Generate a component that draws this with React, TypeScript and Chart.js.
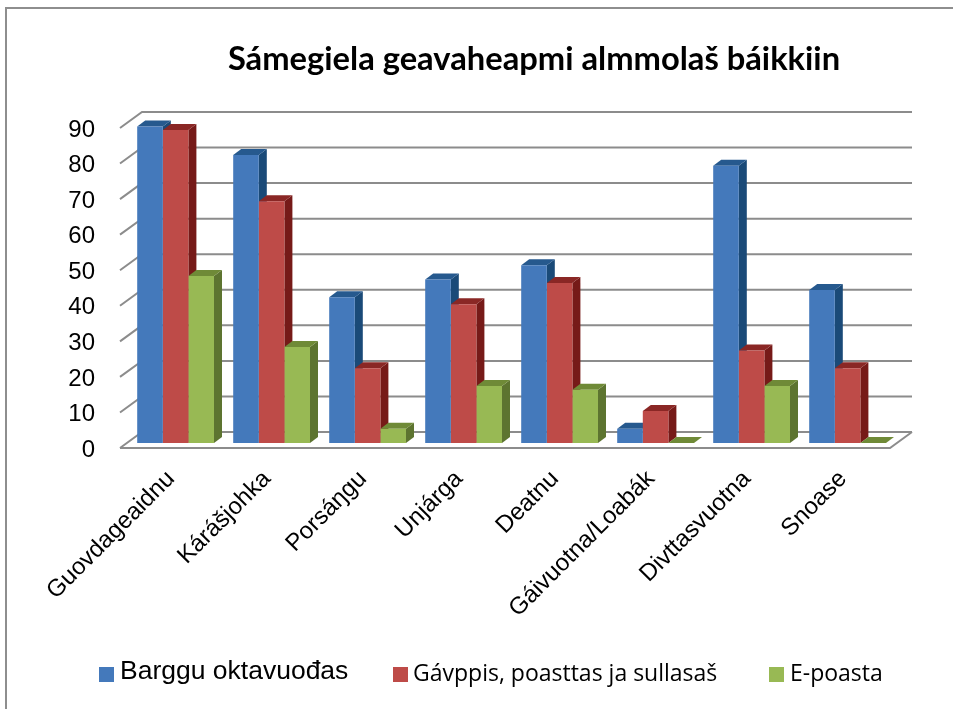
import React, { useEffect, useRef } from "react";
import { Chart, registerables } from "chart.js";

Chart.register(...registerables);

const categories = ["Guovdageaidnu", "Kárášjohka", "Porsáŋgu", "Unjárga", "Deatnu", "Gáivuotna/Loabák", "Divttasvuotna", "Snoase"];
const seriesBarggu = [89, 81, 41, 46, 50, 4, 78, 43];
const seriesGavppis = [88, 68, 21, 39, 45, 9, 26, 21];
const seriesEpoasta = [47, 27, 4, 16, 15, 0, 16, 0];
const seriesNames = ["Barggu oktavuođas", "Gávppis, poasttas ja sullasaš", "E-poasta"];
const titleText = "Sámegiela geavaheapmi almmolaš báikkiin";

const frontColors = ["#4479BB", "#BE4B48", "#98B954"];
const sideColors = ["#1A4A78", "#761A18", "#5D7430"];
const topColors = ["#26598E", "#8A2725", "#6F8A37"];
const GRID = "#8C8C8C";

const WIDTH = 953;
const HEIGHT = 709;
const AREA_LEFT = 122;
const AREA_TOP = 127;
const AREA_RIGHT = 890;
const AREA_BOTTOM = 447;
const TITLE_CENTER = 534;
const WALL = { dx: 22, dy: -16 };
const BAR_SHIFT = { dx: 5.6, dy: -4 };
const BAR_DEPTH = { dx: 8, dy: -6 };

const legendItems = [
  { swatchX: 99, textX: 120, textY: 672, font: '26.5px "Liberation Sans"' },
  { swatchX: 393, textX: 413, textY: 674, font: '23px "Open Sans"' },
  { swatchX: 769, textX: 790, textY: 674, font: '23px "Open Sans"' },
];

const sceneryPlugin = {
  id: "scenery",
  beforeDraw(chart: any) {
    const { ctx } = chart;
    ctx.save();
    ctx.fillStyle = "#FFFFFF";
    ctx.fillRect(0, 0, WIDTH, HEIGHT);
    ctx.strokeStyle = "#8E8E8E";
    ctx.lineWidth = 2;
    ctx.strokeRect(6, 8, 1000, 800);
    ctx.restore();
  },
  beforeDatasetsDraw(chart: any) {
    const { ctx, scales } = chart;
    const y = scales.y;
    const { left, right } = chart.chartArea;
    ctx.save();
    ctx.strokeStyle = GRID;
    ctx.lineWidth = 2;
    y.ticks.forEach((t: any) => {
      const py = y.getPixelForValue(t.value);
      ctx.beginPath();
      ctx.moveTo(left - 2, py + 1);
      ctx.lineTo(left + WALL.dx - 2, py + WALL.dy + 1);
      ctx.lineTo(right + WALL.dx, py + WALL.dy + 1);
      ctx.stroke();
    });
    const base = y.getPixelForValue(0);
    ctx.beginPath();
    ctx.moveTo(left - 2, base + 1);
    ctx.lineTo(right, base + 1);
    ctx.lineTo(right + WALL.dx, base + WALL.dy + 1);
    ctx.stroke();
    ctx.restore();

    ctx.save();
    ctx.translate(BAR_SHIFT.dx, BAR_SHIFT.dy);
    const { dx, dy } = BAR_DEPTH;
    seriesNames.forEach((_, index) => {
      chart.getDatasetMeta(index).data.forEach((bar: any) => {
        const p = bar.getProps(["x", "y", "base", "width"], true);
        const l = p.x - p.width / 2;
        const r = p.x + p.width / 2;
        ctx.fillStyle = sideColors[index];
        ctx.beginPath();
        ctx.moveTo(r, p.y);
        ctx.lineTo(r + dx, p.y + dy);
        ctx.lineTo(r + dx, p.base + dy);
        ctx.lineTo(r, p.base);
        ctx.closePath();
        ctx.fill();
        ctx.fillStyle = topColors[index];
        ctx.beginPath();
        ctx.moveTo(l, p.y);
        ctx.lineTo(l + dx, p.y + dy);
        ctx.lineTo(r + dx, p.y + dy);
        ctx.lineTo(r, p.y);
        ctx.closePath();
        ctx.fill();
      });
    });
  },
  afterDatasetsDraw(chart: any) {
    chart.ctx.restore();
  },
  afterDraw(chart: any) {
    const { ctx } = chart;
    ctx.save();
    ctx.textBaseline = "middle";
    ctx.textAlign = "left";
    seriesNames.forEach((name, i) => {
      const item = legendItems[i];
      ctx.fillStyle = frontColors[i];
      ctx.fillRect(item.swatchX, 667, 15, 15);
      ctx.fillStyle = "#000000";
      ctx.font = item.font;
      ctx.fillText(name, item.textX, item.textY);
    });
    ctx.restore();
  },
  afterLayout(chart: any) {
    const t = chart.titleBlock;
    const half = (t.right - t.left) / 2;
    t.left = TITLE_CENTER - half;
    t.right = TITLE_CENTER + half;
  },
};

export default function App() {
  const ref = useRef<HTMLCanvasElement>(null);
  useEffect(() => {
    const chart = new Chart(ref.current as HTMLCanvasElement, {
      type: "bar",
      data: {
        labels: categories,
        datasets: [seriesBarggu, seriesGavppis, seriesEpoasta].map((data, i) => ({
          label: seriesNames[i],
          data,
          backgroundColor: frontColors[i],
          borderWidth: 0,
          categoryPercentage: 0.8,
          barPercentage: 1,
          clip: false,
        })),
      },
      options: {
        responsive: false,
        animation: false,
        layout: { padding: { left: 0, top: 0, right: WIDTH - AREA_RIGHT, bottom: 0 } },
        plugins: {
          legend: { display: false },
          tooltip: { enabled: false },
          title: {
            display: true,
            text: titleText,
            color: "#000000",
            font: { family: "Lato", size: 32.7, weight: "bold", lineHeight: 1.2 },
            padding: { top: 40, bottom: AREA_TOP - 40 - 39.24 },
          },
        },
        scales: {
          x: {
            grid: { display: false },
            border: { display: false },
            ticks: {
              color: "#000000",
              font: { family: "Liberation Sans", size: 24 },
              minRotation: 45,
              maxRotation: 45,
              autoSkip: false,
              padding: 10,
              labelOffset: 1,
            },
            afterFit(scale: any) {
              scale.height = HEIGHT - AREA_BOTTOM;
              scale.paddingLeft = 0;
              scale.paddingRight = 0;
            },
          },
          y: {
            min: 0,
            max: 90,
            grid: { display: false },
            border: { display: false },
            ticks: {
              stepSize: 10,
              color: "#000000",
              font: { family: "Liberation Sans", size: 24 },
              padding: 19,
              labelOffset: 3,
            },
            afterFit(scale: any) {
              scale.width = AREA_LEFT;
              scale.paddingTop = 0;
              scale.paddingBottom = 0;
            },
          },
        },
      },
      plugins: [sceneryPlugin],
    } as any);
    return () => chart.destroy();
  }, []);
  return (
    <div style={{ position: "absolute", left: 0, top: 0, width: WIDTH, height: HEIGHT, overflow: "hidden" }}>
      <canvas ref={ref} width={WIDTH} height={HEIGHT} style={{ display: "block" }} />
    </div>
  );
}
